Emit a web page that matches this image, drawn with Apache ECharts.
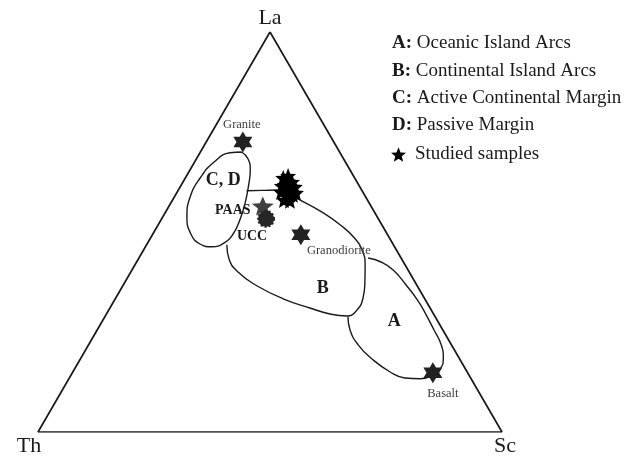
<!DOCTYPE html>
<html>
<head>
<meta charset="utf-8">
<script src="https://cdn.jsdelivr.net/npm/echarts/dist/echarts.min.js"></script>
<style>
  html, body { margin: 0; padding: 0; background: #ffffff; }
  #chart { width: 636px; height: 456px; }
</style>
</head>
<body>
<div id="chart"></div>
<script>
// La–Th–Sc ternary discrimination diagram; every composition is [La, Th, Sc] in %.
const vertexNames = ['La', 'Th', 'Sc'];
const vertices = [[100, 0, 0], [0, 100, 0], [0, 0, 100]];

// Field boundaries
const fieldCD = [
  [70.0, 21.1, 8.9], [68.3, 20.6, 11.1], [65.5, 21.5, 13.0], [61.8, 23.7, 14.5],
  [57.3, 26.7, 16.0], [53.0, 30.0, 17.0], [49.5, 33.2, 17.3], [47.3, 36.2, 16.5],
  [46.3, 39.3, 14.4], [47.0, 41.6, 11.4], [49.5, 42.3, 8.2], [53.8, 41.0, 5.2],
  [58.8, 37.8, 3.4], [63.5, 33.3, 3.2], [67.5, 28.3, 4.2], [69.8, 23.7, 6.5],
  [70.0, 21.1, 8.9]
];
const fieldB = [
  [60.3, 24.9, 14.8], [60.4, 21.5, 18.1], [60.5, 18.0, 21.5], [59.8, 16.2, 24.0],
  [58.3, 14.8, 26.9], [55.3, 11.6, 33.1], [51.8, 9.0, 39.2], [48.3, 7.5, 44.2],
  [45.0, 7.5, 47.5], [42.0, 8.5, 49.5], [37.5, 10.8, 51.7], [33.5, 13.2, 53.3],
  [30.5, 16.0, 53.5], [29.0, 18.9, 52.1], [29.5, 22.3, 48.2], [31.0, 25.9, 43.1],
  [33.3, 30.5, 36.2], [36.5, 34.5, 29.0], [39.8, 36.8, 23.4], [43.3, 37.2, 19.5],
  [46.8, 35.9, 17.3]
];
const fieldA = [
  [28.8, 18.8, 52.4], [25.5, 20.0, 54.5], [21.8, 20.1, 58.1], [18.3, 18.9, 62.8],
  [15.0, 16.6, 68.4], [13.5, 14.2, 72.3], [13.3, 11.0, 75.7], [14.3, 7.7, 78.0],
  [16.0, 5.2, 78.8], [18.5, 3.4, 78.1], [21.8, 2.2, 76.0], [25.5, 1.9, 72.6],
  [29.3, 1.7, 69.0], [32.8, 1.7, 65.5], [36.8, 2.3, 60.9], [40.5, 3.2, 56.3],
  [42.5, 4.8, 52.7], [43.5, 7.1, 49.4]
];

// Field names placed inside the fields
const regionLabels = ['C, D', 'B', 'A'];
const regionLabelPos = [[63.0, 28.6, 8.4], [35.9, 20.7, 43.4], [27.6, 9.4, 63.0]];

// Reference rock compositions
const refNames = ['Granite', 'Granodiorite', 'Basalt'];
const refValues = [[72.5, 19.6, 7.9], [49.3, 18.7, 32.0], [14.8, 7.5, 77.7]];
const paasValue = [56.5, 23.3, 20.2];
const uccValue = [53.3, 24.2, 22.5];

// Studied samples
const samples = [
  [63.5, 15.4, 21.1], [64.0, 14.1, 21.9], [62.5, 14.0, 23.5], [61.8, 15.9, 22.3],
  [60.8, 15.3, 23.9], [61.3, 14.0, 24.7], [60.0, 17.6, 22.4], [59.3, 16.7, 24.0],
  [59.3, 15.4, 25.3], [58.0, 18.0, 24.0], [57.8, 16.8, 25.4], [59.8, 14.5, 25.7],
  [61.5, 16.7, 21.8], [62.3, 14.7, 23.0]
];

// Legend text
const legendKeys = ['A:', 'B:', 'C:', 'D:'];
const legendNames = ['Oceanic Island Arcs', 'Continental Island Arcs',
                     'Active Continental Margin', 'Passive Margin'];
const sampleSeriesName = 'Studied samples';

// ---- styling (not data) ----
const SERIF = '"Liberation Serif", "Times New Roman", serif';
const INK = '#1a1a1a';
const vertexLabelOffsets = [[0, -14], [-9, 14], [3, 14]];
const refLabelOffsets = [[-1, -17], [38, 16], [10, 21]];
const HEXAGRAM = 'path://M0,-10 L2.89,-5 L8.66,-5 L5.77,0 L8.66,5 L2.89,5 L0,10 L-2.89,5 L-8.66,5 L-5.77,0 L-8.66,-5 L-2.89,-5 Z';
const STAR5 = 'path://M0,-10 L2.6,-3.6 L9.51,-3.09 L4.2,1.4 L5.88,8.09 L0,4.4 L-5.88,8.09 L-4.2,1.4 L-9.51,-3.09 L-2.6,-3.6 Z';

// Ternary composition -> cartesian (Th at origin, Sc at x = 1, La at apex y = 1)
function toXY(c) {
  const s = c[0] + c[1] + c[2];
  const la = c[0] / s, sc = c[2] / s;
  return [sc + la / 2, la];
}

const outline = (data, w) => ({
  type: 'line', data: data.map(toXY), smooth: 0.5, symbol: 'none', silent: true,
  lineStyle: { color: INK, width: w }, z: 2
});

const chart = echarts.init(document.getElementById('chart'), null, { renderer: 'canvas' });

chart.setOption({
  animation: false,
  backgroundColor: '#ffffff',
  grid: { left: 38, top: 32, width: 464, height: 400 },
  xAxis: { type: 'value', min: 0, max: 1, show: false },
  yAxis: { type: 'value', min: 0, max: 1, show: false },
  legend: {
    data: [sampleSeriesName],
    left: 391, top: 145, padding: 0, itemWidth: 15, itemHeight: 15,
    icon: STAR5,
    itemStyle: { color: '#000000', opacity: 1 },
    textStyle: { fontFamily: SERIF, fontSize: 19, color: INK, padding: [0, 0, 0, 4] }
  },
  graphic: legendKeys.map((k, i) => ({
    type: 'text', left: 392, top: 45 + i * 27.2 - 11,
    style: {
      text: '{k|' + k + '} ' + legendNames[i],
      fontFamily: SERIF, fontSize: 19, fill: INK,
      rich: { k: { fontFamily: SERIF, fontSize: 19, fontWeight: 'bold', fill: INK } }
    }
  })),
  series: [
    // triangle frame
    {
      type: 'line', data: vertices.concat([vertices[0]]).map(toXY),
      symbol: 'none', silent: true, lineStyle: { color: INK, width: 1.7 }, z: 1
    },
    outline(fieldCD, 1.4),
    outline(fieldB, 1.4),
    outline(fieldA, 1.4),
    // apex names
    {
      type: 'scatter', symbolSize: 0, silent: true, z: 3,
      itemStyle: { opacity: 1 },
      data: vertices.map((v, i) => ({
        value: toXY(v), name: vertexNames[i],
        label: { offset: vertexLabelOffsets[i] }
      })),
      label: {
        show: true, position: 'inside', formatter: '{b}',
        fontFamily: SERIF, fontSize: 22, color: INK
      }
    },
    // field names
    {
      type: 'scatter', symbolSize: 0, silent: true, z: 3,
      itemStyle: { opacity: 1 },
      data: regionLabelPos.map((p, i) => ({ value: toXY(p), name: regionLabels[i] })),
      label: {
        show: true, position: 'inside', formatter: '{b}',
        fontFamily: SERIF, fontSize: 18, fontWeight: 'bold', color: INK
      }
    },
    // reference rocks
    {
      type: 'scatter', symbol: HEXAGRAM, symbolSize: [19, 21], z: 5,
      itemStyle: { color: '#222222', opacity: 1 },
      data: refValues.map((v, i) => ({
        value: toXY(v), name: refNames[i],
        label: { offset: refLabelOffsets[i] }
      })),
      label: {
        show: true, position: 'inside', formatter: '{b}',
        fontFamily: SERIF, fontSize: 12.5, color: '#3c3c3c'
      }
    },
    // PAAS
    {
      type: 'scatter', symbol: STAR5, symbolSize: [22, 19], z: 5,
      itemStyle: { color: '#404040', opacity: 1 },
      data: [{ value: toXY(paasValue), name: 'PAAS' }],
      label: {
        show: true, position: 'inside', offset: [-30, 4], formatter: '{b}',
        fontFamily: SERIF, fontSize: 14, fontWeight: 'bold', color: INK
      }
    },
    // UCC
    {
      type: 'scatter', symbol: 'circle', symbolSize: 16, z: 6,
      itemStyle: { color: '#262626', borderColor: '#262626', borderWidth: 2, borderType: 'dotted', opacity: 1 },
      data: [{ value: toXY(uccValue), name: 'UCC' }],
      label: {
        show: true, position: 'inside', offset: [-14, 18], formatter: '{b}',
        fontFamily: SERIF, fontSize: 14, fontWeight: 'bold', color: INK
      }
    },
    // studied samples
    {
      name: sampleSeriesName,
      type: 'scatter', symbol: STAR5, symbolSize: 16, z: 7,
      itemStyle: { color: '#000000', opacity: 1 },
      data: samples.map(toXY)
    }
  ]
});
</script>
</body>
</html>
